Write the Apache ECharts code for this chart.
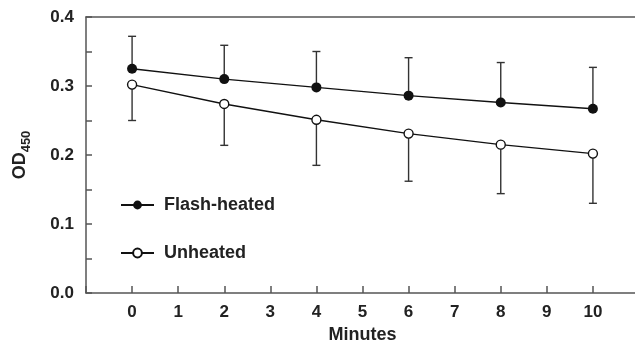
<!DOCTYPE html>
<html>
<head>
<meta charset="utf-8">
<script src="https://cdn.jsdelivr.net/npm/echarts@6/dist/echarts.min.js"></script>
<style>
  html, body { margin: 0; padding: 0; background: #fff; }
  #chart { width: 635px; height: 343px; }
</style>
</head>
<body>
<div id="chart"></div>
<script>
// minutes
const minutes = [0, 2, 4, 6, 8, 10];
// OD450 means and error bar sizes
const flashHeated = [0.325, 0.310, 0.298, 0.286, 0.276, 0.267];
const flashErr = [0.047, 0.049, 0.052, 0.055, 0.058, 0.060];
const unheated = [0.302, 0.274, 0.251, 0.231, 0.215, 0.202];
const unheatedErr = [0.052, 0.060, 0.066, 0.069, 0.071, 0.072];
const xTickLabels = ["0", "1", "2", "3", "4", "5", "6", "7", "8", "9", "10"];
const yTickLabels = ["0.0", "0.1", "0.2", "0.3", "0.4"];

const FONT = "Liberation Sans, Arial, Helvetica, sans-serif";
const INK = "#222";
const AXIS = "#555";

const chart = echarts.init(document.getElementById("chart"));

// 에러바 (dir: 1 = up, -1 = down)
function errorBarSeries(name, means, errs, dir) {
  return {
    name: name + " err",
    type: "custom",
    z: 1,
    silent: true,
    data: minutes.map((m, i) => [m, means[i], means[i] + dir * errs[i]]),
    renderItem: function (params, api) {
      const p0 = api.coord([api.value(0), api.value(1)]);
      const p1 = api.coord([api.value(0), api.value(2)]);
      const cap = 4;
      const style = { stroke: "#333", lineWidth: 1.4 };
      return {
        type: "group",
        children: [
          { type: "line", shape: { x1: p0[0], y1: p0[1], x2: p1[0], y2: p1[1] }, style: style },
          { type: "line", shape: { x1: p1[0] - cap, y1: p1[1], x2: p1[0] + cap, y2: p1[1] }, style: style },
        ],
      };
    },
  };
}

const option = {
  animation: false,
  textStyle: { fontFamily: FONT },
  grid: { left: 86, right: -4, top: 17, bottom: 50, outerBoundsMode: "none" },
  legend: {
    orient: "vertical",
    left: 120,
    top: 196,
    padding: 0,
    itemWidth: 33,
    itemHeight: 11,
    itemGap: 30,
    data: ["Flash-heated", "Unheated"],
    textStyle: { fontSize: 18, fontWeight: "bold", color: INK, padding: [0, 0, 0, 5] },
  },
  xAxis: [
    {
      type: "value",
      min: -1,
      max: 11,
      interval: 1,
      name: "Minutes",
      nameLocation: "middle",
      nameGap: 32,
      nameTextStyle: { fontSize: 18, fontWeight: "bold", color: INK },
      axisLine: { onZero: false, lineStyle: { color: AXIS, width: 1.5 } },
      axisTick: { inside: true, length: 7, lineStyle: { color: AXIS, width: 1.5 } },
      axisLabel: {
        fontSize: 17,
        fontWeight: "bold",
        color: INK,
        margin: 11,
        formatter: (v) => (v >= 0 && v <= 10 ? xTickLabels[v] : ""),
      },
      splitLine: { show: false },
    },
    {
      type: "value",
      position: "top",
      min: -1,
      max: 11,
      axisLine: { show: true, onZero: false, lineStyle: { color: AXIS, width: 1.5 } },
      axisTick: { show: false },
      axisLabel: { show: false },
      splitLine: { show: false },
    },
  ],
  yAxis: {
    type: "value",
    min: 0,
    max: 0.4,
    interval: 0.05,
    name: "{m|OD}{s|450}",
    nameLocation: "middle",
    nameRotate: 90,
    nameGap: 53,
    nameTextStyle: {
      rich: {
        m: { fontSize: 18, fontWeight: "bold", color: INK, fontFamily: FONT, lineHeight: 22, verticalAlign: "top" },
        s: { fontSize: 13, fontWeight: "bold", color: INK, fontFamily: FONT, lineHeight: 13, verticalAlign: "bottom" },
      },
    },
    axisLine: { show: true, onZero: false, lineStyle: { color: AXIS, width: 1.5 } },
    axisTick: { inside: true, length: 6, lineStyle: { color: AXIS, width: 1.5 } },
    axisLabel: {
      fontSize: 17,
      fontWeight: "bold",
      color: INK,
      margin: 12,
      formatter: (v) => {
        const k = Math.round(v * 100);
        return k % 10 === 0 ? yTickLabels[k / 10] : "";
      },
    },
    splitLine: { show: false },
  },
  series: [
    errorBarSeries("Flash-heated", flashHeated, flashErr, 1),
    errorBarSeries("Unheated", unheated, unheatedErr, -1),
    {
      name: "Flash-heated",
      type: "line",
      z: 3,
      data: minutes.map((m, i) => [m, flashHeated[i]]),
      symbol: "circle",
      symbolSize: 10,
      lineStyle: { color: "#111", width: 1.4 },
      itemStyle: { color: "#111" },
    },
    {
      name: "Unheated",
      type: "line",
      z: 3,
      data: minutes.map((m, i) => [m, unheated[i]]),
      symbol: "circle",
      symbolSize: 9,
      lineStyle: { color: "#111", width: 1.4 },
      itemStyle: { color: "#fff", borderColor: "#111", borderWidth: 1.4 },
    },
  ],
};

chart.setOption(option);
</script>
</body>
</html>
